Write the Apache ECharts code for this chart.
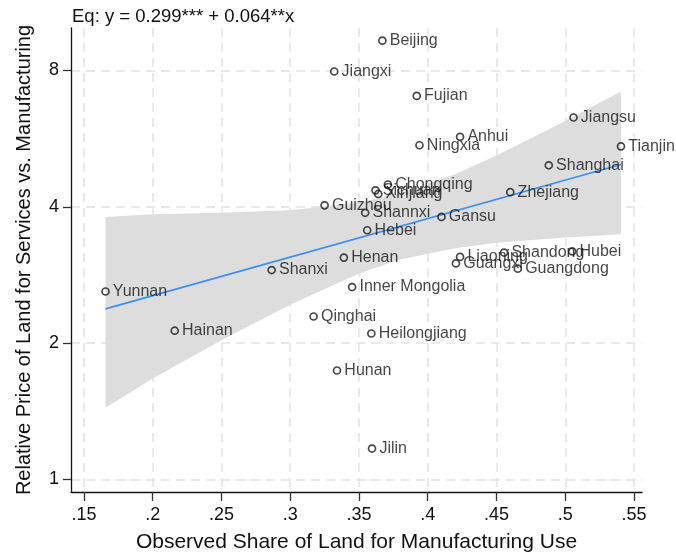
<!DOCTYPE html>
<html>
<head>
<meta charset="utf-8">
<script src="https://cdn.jsdelivr.net/npm/echarts@6/dist/echarts.min.js"></script>
<style>
  html, body { margin: 0; padding: 0; background: #fff; }
  #chart { width: 676px; height: 558px; }
</style>
</head>
<body>
<div id="chart"></div>
<script>
// Provinces: observed manufacturing land share vs. relative land price (services / manufacturing)
const provinces = [
  'Beijing', 'Jiangxi', 'Fujian', 'Jiangsu', 'Anhui', 'Ningxia', 'Tianjin', 'Shanghai',
  'Zhejiang', 'Chongqing', 'Sichuan', 'Xinjiang', 'Guizhou', 'Shannxi', 'Gansu', 'Hebei',
  'Henan', 'Liaoning', 'Guangxi', 'Shandong', 'Hubei', 'Guangdong', 'Shanxi', 'Yunnan',
  'Inner Mongolia', 'Qinghai', 'Hainan', 'Heilongjiang', 'Hunan', 'Jilin'
];
const landShare = [
  0.367, 0.332, 0.392, 0.506, 0.4235, 0.394, 0.5405, 0.488,
  0.460, 0.371, 0.362, 0.364, 0.325, 0.3545, 0.410, 0.356,
  0.339, 0.4235, 0.4205, 0.4555, 0.505, 0.4655, 0.2865, 0.1657,
  0.345, 0.317, 0.216, 0.359, 0.334, 0.3595
];
const relPrice = [
  9.31, 7.96, 7.03, 6.30, 5.71, 5.47, 5.44, 4.94,
  4.31, 4.48, 4.35, 4.27, 4.03, 3.88, 3.80, 3.55,
  3.09, 3.10, 3.00, 3.17, 3.19, 2.92, 2.90, 2.60,
  2.66, 2.29, 2.13, 2.10, 1.74, 1.17
];

// Fitted line endpoints and 95% confidence band
const fitX = [0.1657, 0.5405];
const fitY = [2.38, 4.96];
const bandX     = [0.1657, 0.20, 0.25, 0.30, 0.35, 0.38, 0.42, 0.45, 0.50, 0.5405];
const bandUpper = [3.80, 3.85, 3.88, 3.93, 4.09, 4.29, 4.72, 5.19, 6.19, 7.19];
const bandLower = [1.44, 1.67, 2.03, 2.43, 2.85, 3.06, 3.24, 3.33, 3.42, 3.48];

// Axis ticks
const xTicks = [0.15, 0.2, 0.25, 0.3, 0.35, 0.4, 0.45, 0.5, 0.55];
const yTicks = [1, 2, 4, 8];

const FONT = '"Liberation Sans", Arial, sans-serif';
const gridLine = { show: true, lineStyle: { color: '#e4e4e4', width: 1.5, type: [9, 6] } };

const chart = echarts.init(document.getElementById('chart'), null, { renderer: 'canvas' });
chart.setOption({
  animation: false,
  backgroundColor: '#ffffff',
  textStyle: { fontFamily: FONT },
  title: {
    text: 'Eq: y = 0.299*** + 0.064**x',
    left: 67, top: 2,
    textStyle: { fontFamily: FONT, fontSize: 18.5, fontWeight: 'normal', color: '#111' }
  },
  grid: { left: 71, right: 34, top: 28, bottom: 65, containLabel: false },
  xAxis: {
    type: 'value',
    min: 0.1406, max: 0.5558,
    name: 'Observed Share of Land for Manufacturing Use',
    nameLocation: 'middle', nameGap: 40,
    nameTextStyle: { fontFamily: FONT, fontSize: 21, color: '#111' },
    axisLine: { show: true, onZero: false, lineStyle: { color: '#111', width: 1.3 } },
    axisTick: { show: true, length: 9, customValues: xTicks, lineStyle: { color: '#333', width: 1.3 } },
    axisLabel: {
      customValues: xTicks, margin: 14, fontSize: 18, color: '#111', fontFamily: FONT,
      formatter: v => String(v).replace(/^0/, '')
    },
    splitLine: gridLine
  },
  yAxis: {
    type: 'log', logBase: 2,
    min: 0.938, max: 9.93,
    name: 'Relative Price of Land for Services vs. Manufacturing',
    nameLocation: 'middle', nameGap: 37,
    nameTextStyle: { fontFamily: FONT, fontSize: 20, color: '#111' },
    axisLine: { show: true, onZero: false, lineStyle: { color: '#111', width: 1.3 } },
    axisTick: { show: true, length: 8, customValues: yTicks, lineStyle: { color: '#333', width: 1.3 } },
    axisLabel: { customValues: yTicks, margin: 12, fontSize: 18, color: '#111', fontFamily: FONT },
    splitLine: gridLine
  },
  series: [
    {
      type: 'custom',
      name: 'CI',
      silent: true,
      data: [[0.3, 3]],
      encode: { x: 0, y: 1 },
      z: 1,
      renderItem: (params, api) => {
        const pts = [];
        for (let i = 0; i < bandX.length; i++) pts.push(api.coord([bandX[i], bandUpper[i]]));
        for (let i = bandX.length - 1; i >= 0; i--) pts.push(api.coord([bandX[i], bandLower[i]]));
        return { type: 'polygon', shape: { points: pts }, style: { fill: '#dddddd' } };
      }
    },
    {
      type: 'line',
      name: 'Fit',
      data: fitX.map((x, i) => [x, fitY[i]]),
      symbol: 'none',
      z: 2,
      lineStyle: { color: '#3b8ff0', width: 1.8 }
    },
    {
      type: 'scatter',
      name: 'Provinces',
      z: 3,
      data: provinces.map((p, i) => ({ name: p, value: [landShare[i], relPrice[i]] })),
      symbol: 'circle',
      symbolSize: 7,
      itemStyle: { color: 'rgba(255,255,255,0)', borderColor: '#1a1a1a', borderWidth: 1.7 },
      label: {
        show: true, position: 'right', distance: 3, formatter: '{b}',
        fontFamily: FONT, fontSize: 16, color: '#151515'
      }
    }
  ]
});
</script>
</body>
</html>
